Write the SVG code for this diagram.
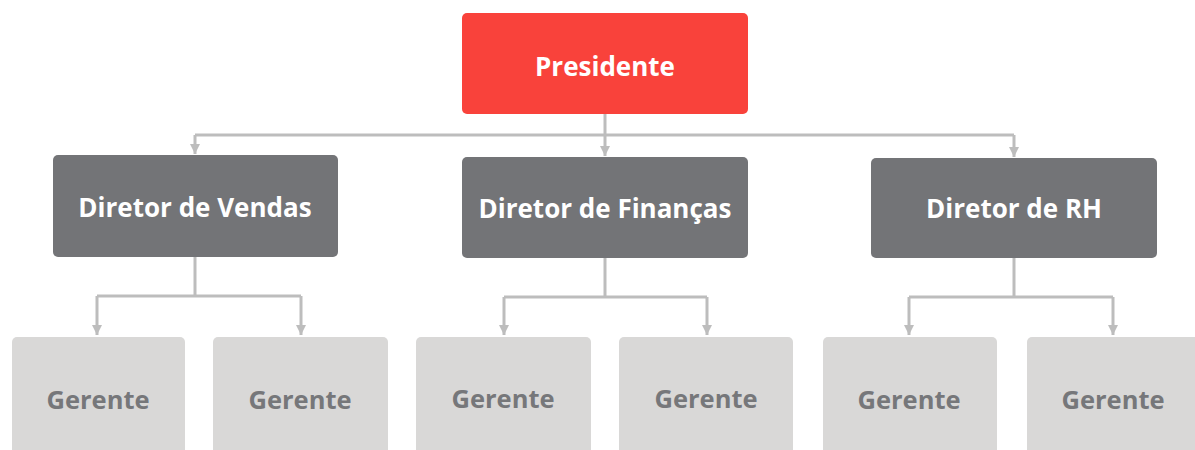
<svg xmlns="http://www.w3.org/2000/svg" width="1195" height="450" viewBox="0 0 1195 450">
<style>
.pres{fill:#f9423b}
.dir{fill:#737477}
.ger{fill:#d9d8d7}
.lbl{font-family:"Open Sans","Liberation Sans",sans-serif;font-weight:bold;font-size:26px;text-anchor:middle;dominant-baseline:central}
.w{fill:#ffffff}
.g{fill:#76777a;font-size:25.5px}
.c{fill:none;stroke:#bdbdbd;stroke-width:3}
</style>
<defs>
<marker id="arr" viewBox="0 0 10 10" refX="10" refY="5" markerWidth="10" markerHeight="10" markerUnits="userSpaceOnUse" orient="auto">
<path d="M0,0 L10,5 L0,10 Z" fill="#bdbdbd"/>
</marker>
</defs>
<rect width="1195" height="450" fill="#ffffff"/>
<g id="connectors">
<path class="c" d="M605,114 V135"/>
<path class="c" d="M195,135 H1014"/>
<path class="c" d="M195,135 V154" marker-end="url(#arr)"/>
<path class="c" d="M605,135 V156" marker-end="url(#arr)"/>
<path class="c" d="M1014,135 V157" marker-end="url(#arr)"/>
<path class="c" d="M195,257 V296 M97,296 H301"/>
<path class="c" d="M97,296 V335" marker-end="url(#arr)"/>
<path class="c" d="M301,296 V335" marker-end="url(#arr)"/>
<path class="c" d="M605,258 V297 M504,297 H707"/>
<path class="c" d="M504,297 V335" marker-end="url(#arr)"/>
<path class="c" d="M707,297 V335" marker-end="url(#arr)"/>
<path class="c" d="M1014,258 V297 M909,297 H1113"/>
<path class="c" d="M909,297 V335" marker-end="url(#arr)"/>
<path class="c" d="M1113,297 V335" marker-end="url(#arr)"/>
</g>
<g id="presidente"><rect class="pres" x="462" y="13" width="286" height="101" rx="5"/><text class="lbl w" x="605" y="66">Presidente</text></g>
<g id="dir-vendas"><rect class="dir" x="53" y="155" width="285" height="102" rx="5"/><text class="lbl w" x="195" y="207">Diretor de Vendas</text></g>
<g id="dir-financas"><rect class="dir" x="462" y="157" width="286" height="101" rx="5"/><text class="lbl w" x="605" y="208">Diretor de Finanças</text></g>
<g id="dir-rh"><rect class="dir" x="871" y="158" width="286" height="100" rx="5"/><text class="lbl w" x="1014" y="208">Diretor de RH</text></g>
<g id="ger1"><rect class="ger" x="12" y="337" width="173" height="125" rx="5"/><text class="lbl g" x="98" y="399">Gerente</text></g>
<g id="ger2"><rect class="ger" x="213" y="337" width="175" height="125" rx="5"/><text class="lbl g" x="300" y="399">Gerente</text></g>
<g id="ger3"><rect class="ger" x="416" y="337" width="175" height="125" rx="5"/><text class="lbl g" x="503" y="398">Gerente</text></g>
<g id="ger4"><rect class="ger" x="619" y="337" width="174" height="125" rx="5"/><text class="lbl g" x="706" y="398">Gerente</text></g>
<g id="ger5"><rect class="ger" x="823" y="337" width="174" height="125" rx="5"/><text class="lbl g" x="909" y="399">Gerente</text></g>
<g id="ger6"><rect class="ger" x="1027" y="337" width="180" height="125" rx="5"/><text class="lbl g" x="1113" y="399">Gerente</text></g>
</svg>
